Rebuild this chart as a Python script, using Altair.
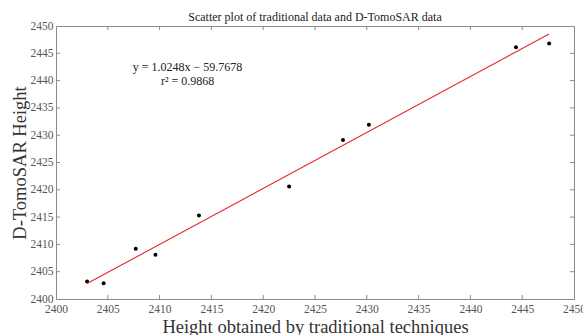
import altair as alt
import pandas as pd

# Data
trad_height = [2403.0, 2404.6, 2407.7, 2409.6, 2413.8, 2422.5, 2427.7, 2430.2, 2444.4, 2447.6]
tomo_height = [2403.2, 2402.9, 2409.2, 2408.1, 2415.3, 2420.6, 2429.1, 2431.9, 2446.1, 2446.8]
slope = 1.0248
intercept = -59.7678
r2 = 0.9868
tick_values = [2400, 2405, 2410, 2415, 2420, 2425, 2430, 2435, 2440, 2445, 2450]
eq_lines = ["y = 1.0248x − 59.7678", "r² = 0.9868"]
eq_x = [2412.7, 2412.7]
eq_y = [2442.4, 2440.0]

W, H = 518, 273
FONT = "Liberation Serif"
AX = "#8a8a8a"

pts = pd.DataFrame({"x": trad_height, "y": tomo_height})
xs = [min(trad_height), max(trad_height)]
fit = pd.DataFrame({"x": xs, "y": [slope * v + intercept for v in xs]})
ticks = pd.DataFrame({"t": tick_values[1:-1]})
ann = pd.DataFrame({"x": eq_x, "y": eq_y, "label": eq_lines})

xscale = alt.Scale(domain=[2400, 2450], nice=False, zero=False)
yscale = alt.Scale(domain=[2400, 2450], nice=False, zero=False)

xaxis = alt.Axis(values=tick_values, format="d", labelPadding=4, labelOverlap=False, labelSeparation=0,
                 title="Height obtained by traditional techniques",
                 titleX=W / 2, titleY=33, titleBaseline="alphabetic", titleAnchor="middle")
yaxis = alt.Axis(values=tick_values, format="d", labelPadding=3, labelOverlap=False, labelSeparation=0,
                 title="D-TomoSAR Height",
                 titleX=-37, titleY=H / 2, titleAngle=-90, titleBaseline="middle", titleAlign="center")

def X(field):
    return alt.X(field, scale=xscale, axis=xaxis)

def Y(field):
    return alt.Y(field, scale=yscale, axis=yaxis)

scatter = alt.Chart(pts).mark_circle(size=16, color="black", opacity=1).encode(x=X("x:Q"), y=Y("y:Q"))

line = alt.Chart(fit).mark_line(color="#e8262b", strokeWidth=1.1).encode(x=X("x:Q"), y=Y("y:Q"))

tl = 4
top_ticks = alt.Chart(ticks).mark_rule(color=AX).encode(x=X("t:Q"), y=alt.value(0), y2=alt.value(tl))
bot_ticks = alt.Chart(ticks).mark_rule(color=AX).encode(x=X("t:Q"), y=alt.value(H), y2=alt.value(H - tl))
left_ticks = alt.Chart(ticks).mark_rule(color=AX).encode(y=Y("t:Q"), x=alt.value(0), x2=alt.value(tl))
right_ticks = alt.Chart(ticks).mark_rule(color=AX).encode(y=Y("t:Q"), x=alt.value(W), x2=alt.value(W - tl))

text = alt.Chart(ann).mark_text(font=FONT, fontSize=12, color="#222222", align="center", baseline="middle").encode(
    x=X("x:Q"), y=Y("y:Q"), text="label:N")

chart = alt.layer(scatter, line, top_ticks, bot_ticks, left_ticks, right_ticks, text).properties(
    width=W, height=H,
    title=alt.TitleParams("Scatter plot of traditional data and D-TomoSAR data", font=FONT, fontSize=12,
                          fontWeight="normal", color="#222222", anchor="middle", offset=5, dy=9),
    autosize=alt.AutoSizeParams(type="none"),
    padding={"left": 56, "top": 26, "right": 9, "bottom": 36},
    background="white",
).configure_view(stroke=AX, strokeWidth=1).configure_axis(
    ticks=False, grid=False, labelOverlap=False, labelFlush=False,
    labelFont=FONT, labelFontSize=11.5, labelColor="#555555", domainColor=AX,
    titleFont=FONT, titleFontSize=18.5, titleFontWeight="normal", titleColor="#333333",
)

chart.save("out.html", embed_options={"renderer": "svg", "actions": False})
